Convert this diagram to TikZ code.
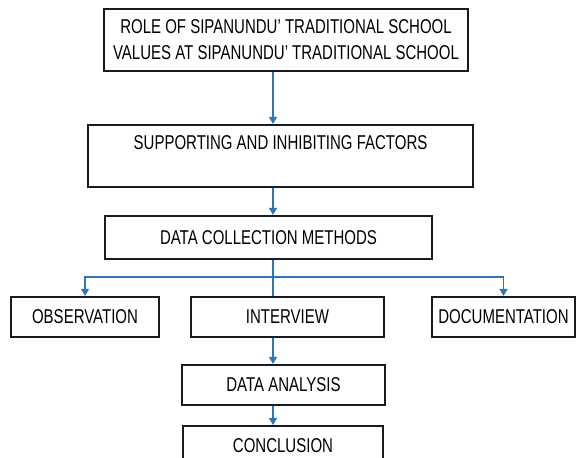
\documentclass[tikz,border=0pt]{standalone}
\usepackage{fontspec}
\setmainfont[FakeStretch=0.75]{Liberation Sans}
\usetikzlibrary{arrows.meta}
\definecolor{boxline}{HTML}{1A1A24}
\definecolor{connblue}{HTML}{2E75B6}
\begin{document}
\begin{tikzpicture}[x=1pt,y=-1pt,
  box/.style={draw=boxline,line width=2.2pt,rectangle,inner sep=0pt,align=center,
    font=\fontsize{20}{26}\selectfont,text=black},
  conn/.style={draw=connblue,line width=1.3pt},
  arr/.style={conn,-{Triangle[length=7pt,width=8pt]}}]
\useasboundingbox (0,0) rectangle (577,457);
\clip (0,0) rectangle (577,457);
\coordinate (sp) at (273,0);
\node[box,minimum width=364pt,minimum height=62pt] (b1) at (286,40)
  {ROLE OF SIPANUNDU’ TRADITIONAL SCHOOL\\VALUES AT SIPANUNDU’ TRADITIONAL SCHOOL};
\node[box,minimum width=385pt,minimum height=62pt] (b2) at (280.5,156)
  {SUPPORTING AND INHIBITING FACTORS\\\mbox{}};
\node[box,minimum width=327pt,minimum height=43pt] (b3) at (268.5,237.5)
  {DATA COLLECTION METHODS};
\node[box,minimum width=148pt,minimum height=40pt] (obs) at (85,317)
  {OBSERVATION};
\node[box,minimum width=193pt,minimum height=40pt] (int) at (287.5,317)
  {INTERVIEW};
\node[box,minimum width=143pt,minimum height=40pt] (doc) at (503.5,317)
  {DOCUMENTATION};
\node[box,minimum width=203pt,minimum height=40pt] (da) at (283.5,385)
  {DATA ANALYSIS};
\node[box,minimum width=200pt,minimum height=40pt,anchor=north] (con) at (283,425)
  {CONCLUSION};
\draw[arr] (b1.south -| sp) -- (b2.north -| sp);
\draw[arr] (b2.south -| sp) -- (b3.north -| sp);
\draw[conn] (b3.south -| sp) -- (int.north -| sp);
\coordinate (hj) at (273,277);
\draw[arr] (hj) -| (obs.north);
\draw[arr] (hj) -| (doc.north);
\draw[arr] (int.south -| sp) -- (da.north -| sp);
\draw[arr] (da.south -| sp) -- (con.north -| sp);
\end{tikzpicture}
\end{document}
